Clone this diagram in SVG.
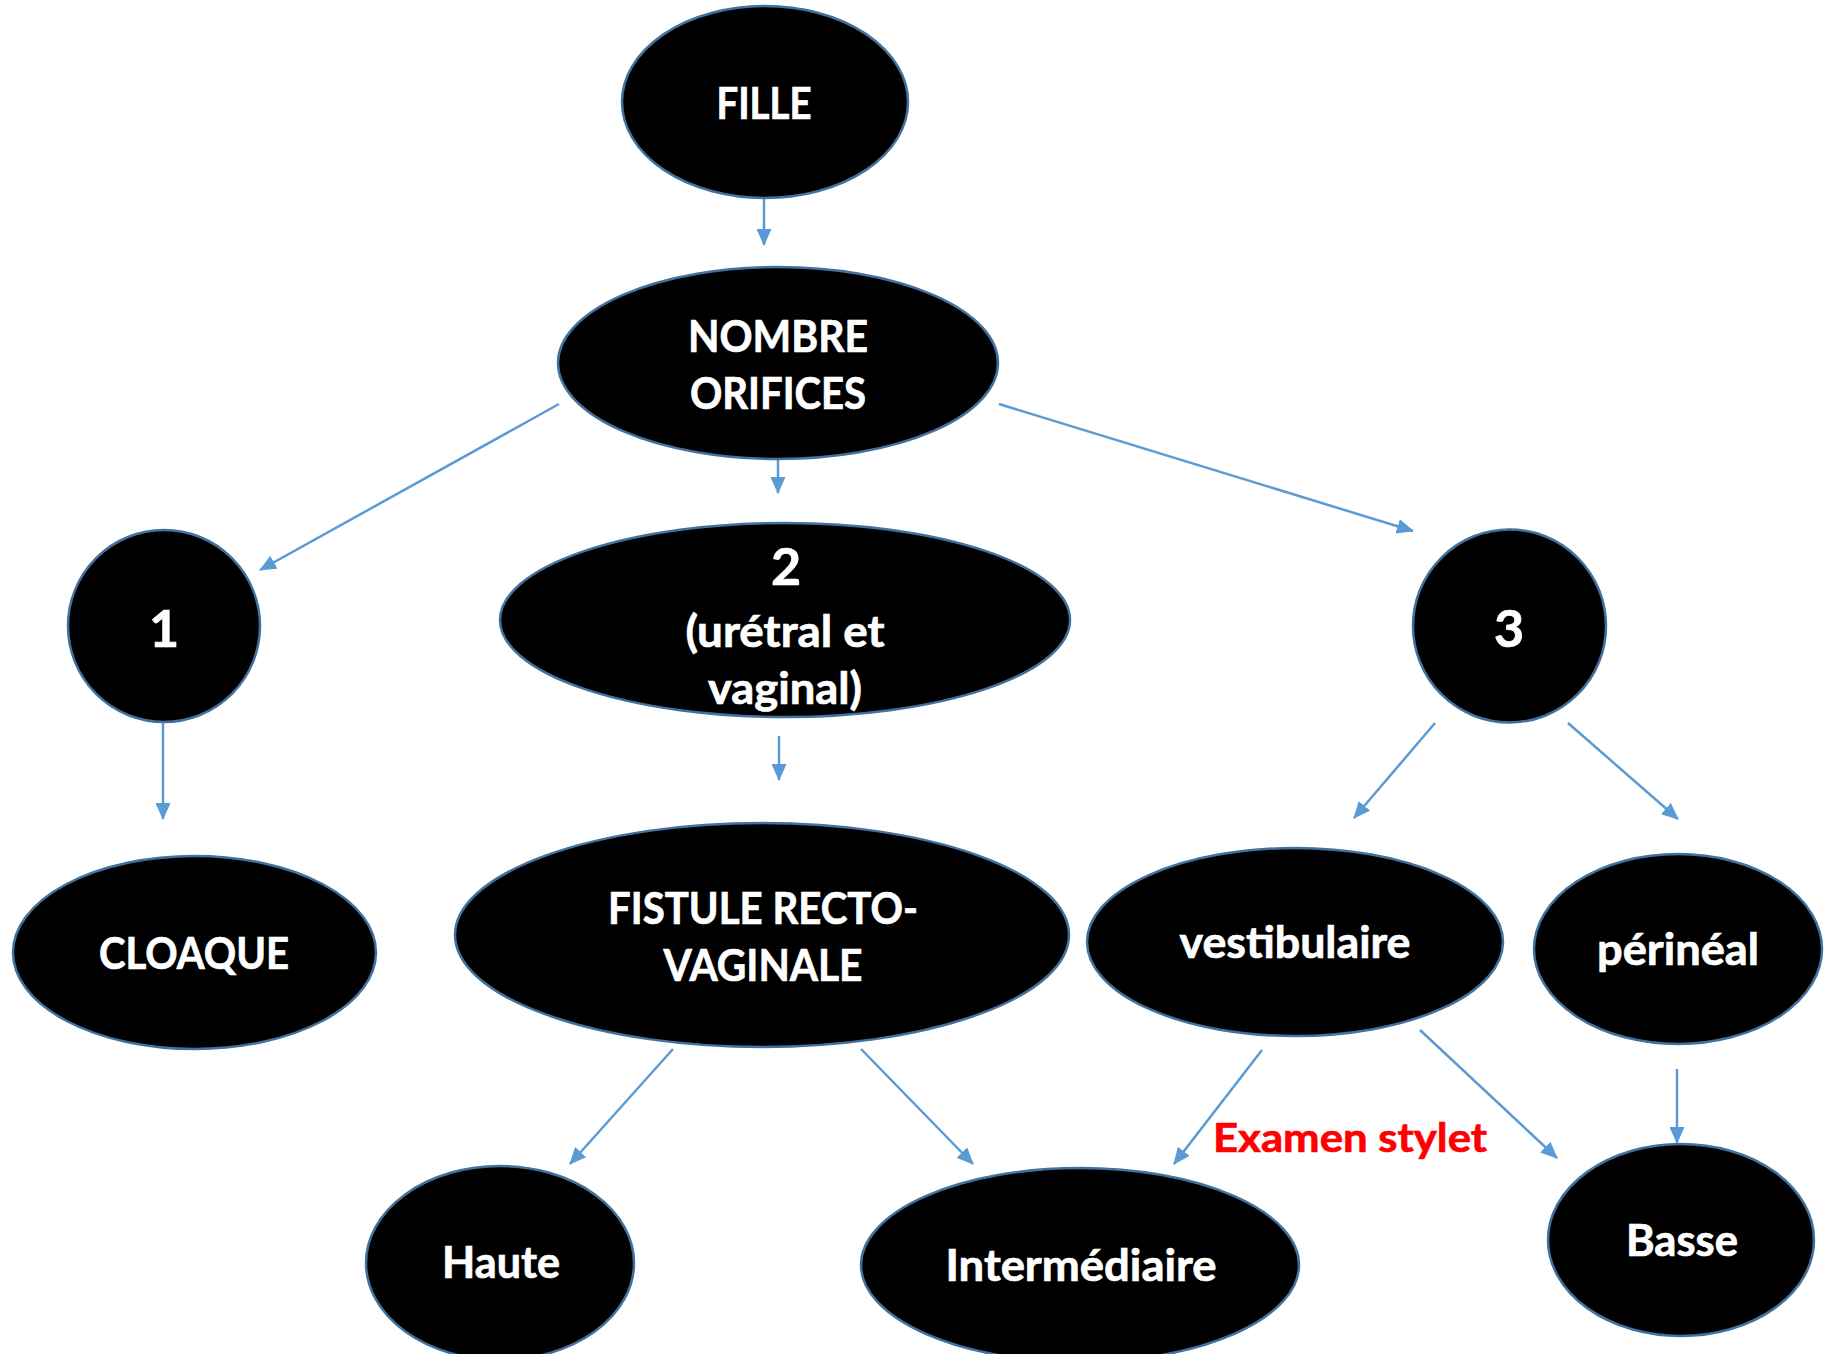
<svg xmlns="http://www.w3.org/2000/svg" width="1825" height="1354" viewBox="0 0 1825 1354">
<style>
.node{fill:#000;stroke:#41719C;stroke-width:2.5}
.lbl{fill:#fff;stroke:#fff;stroke-width:0.7;font-family:Lato,"Open Sans","Liberation Sans",sans-serif;font-weight:700;font-size:44px;text-anchor:middle}
.conn{stroke:#5B9BD5;stroke-width:2.5;fill:none;marker-end:url(#ah)}
.note{fill:#FF0000;stroke:#FF0000;stroke-width:0.7;font-family:Lato,"Open Sans","Liberation Sans",sans-serif;font-weight:700;font-size:41px}
</style>
<defs>
<marker id="ah" markerUnits="userSpaceOnUse" markerWidth="17" markerHeight="15" refX="16" refY="7.5" orient="auto">
<path d="M0,0 L17,7.5 L0,15 z" fill="#5B9BD5"/>
</marker>
</defs>
<rect width="1825" height="1354" fill="#fff"/>
<g id="connectors">
<line class="conn" x1="764" y1="198" x2="764" y2="245"/>
<line class="conn" x1="778" y1="459" x2="778" y2="493"/>
<line class="conn" x1="559" y1="404" x2="260" y2="570"/>
<line class="conn" x1="999" y1="404" x2="1413" y2="531"/>
<line class="conn" x1="163" y1="722" x2="163" y2="819"/>
<line class="conn" x1="779" y1="736" x2="779" y2="780"/>
<line class="conn" x1="1435" y1="723" x2="1354" y2="818"/>
<line class="conn" x1="1568" y1="723" x2="1678" y2="819"/>
<line class="conn" x1="673" y1="1049" x2="570" y2="1164"/>
<line class="conn" x1="861" y1="1049" x2="973" y2="1164"/>
<line class="conn" x1="1262" y1="1050" x2="1174" y2="1164"/>
<line class="conn" x1="1420" y1="1030" x2="1557" y2="1158"/>
<line class="conn" x1="1677" y1="1069" x2="1677" y2="1143"/>
</g>
<g id="n-fille">
<ellipse class="node" cx="765" cy="102" rx="143" ry="96"/>
<text class="lbl" x="764" y="119" textLength="95" lengthAdjust="spacingAndGlyphs">FILLE</text>
</g>
<g id="n-nombre">
<ellipse class="node" cx="778" cy="363" rx="220" ry="96"/>
<text class="lbl" x="778" y="352" textLength="180" lengthAdjust="spacingAndGlyphs">NOMBRE</text>
<text class="lbl" x="778" y="409" textLength="176" lengthAdjust="spacingAndGlyphs">ORIFICES</text>
</g>
<g id="n-1">
<circle class="node" cx="164" cy="626" r="96"/>
<text class="lbl" x="164" y="647" style="font-size:52px">1</text>
</g>
<g id="n-2">
<ellipse class="node" cx="785" cy="620" rx="285" ry="97"/>
<text class="lbl" x="786" y="585" style="font-size:52px">2</text>
<text class="lbl" x="785" y="647" textLength="199" lengthAdjust="spacingAndGlyphs">(urétral et</text>
<text class="lbl" x="785" y="704" textLength="154" lengthAdjust="spacingAndGlyphs">vaginal)</text>
</g>
<g id="n-3">
<circle class="node" cx="1509.5" cy="626" r="96.5"/>
<text class="lbl" x="1509" y="647" style="font-size:52px">3</text>
</g>
<g id="n-cloaque">
<ellipse class="node" cx="194.5" cy="952.5" rx="181.5" ry="96.5"/>
<text class="lbl" x="194" y="969" textLength="190" lengthAdjust="spacingAndGlyphs">CLOAQUE</text>
</g>
<g id="n-fistule">
<ellipse class="node" cx="762" cy="935" rx="307" ry="112"/>
<text class="lbl" x="763" y="924" textLength="310" lengthAdjust="spacingAndGlyphs">FISTULE RECTO-</text>
<text class="lbl" x="763" y="981" textLength="199" lengthAdjust="spacingAndGlyphs">VAGINALE</text>
</g>
<g id="n-vestibulaire">
<ellipse class="node" cx="1295" cy="942" rx="208" ry="94"/>
<text class="lbl" x="1295" y="958" textLength="231" lengthAdjust="spacingAndGlyphs">vestibulaire</text>
</g>
<g id="n-perineal">
<ellipse class="node" cx="1678" cy="949" rx="144" ry="95"/>
<text class="lbl" x="1678" y="965" textLength="162" lengthAdjust="spacingAndGlyphs">périnéal</text>
</g>
<g id="n-haute">
<ellipse class="node" cx="500" cy="1263" rx="134" ry="97"/>
<text class="lbl" x="501" y="1278" textLength="118" lengthAdjust="spacingAndGlyphs">Haute</text>
</g>
<g id="n-intermediaire">
<ellipse class="node" cx="1080" cy="1265" rx="219" ry="97"/>
<text class="lbl" x="1081" y="1281" textLength="271" lengthAdjust="spacingAndGlyphs">Intermédiaire</text>
</g>
<g id="n-basse">
<ellipse class="node" cx="1681" cy="1240" rx="133" ry="96"/>
<text class="lbl" x="1682" y="1256" textLength="112" lengthAdjust="spacingAndGlyphs">Basse</text>
</g>
<g id="label-examen">
<text class="note" x="1213" y="1152" textLength="274" lengthAdjust="spacingAndGlyphs">Examen stylet</text>
</g>
</svg>
